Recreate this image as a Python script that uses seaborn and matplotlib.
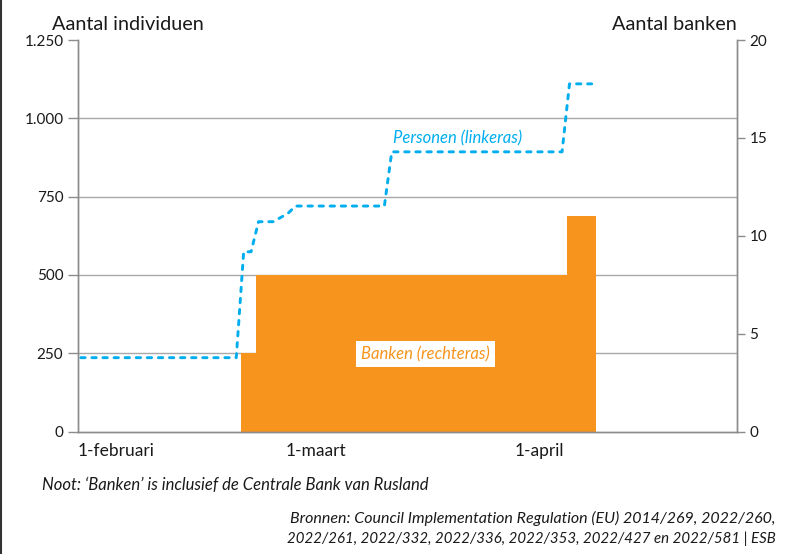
import seaborn as sns
import matplotlib.pyplot as plt
import matplotlib.lines as mlines
import pandas as pd

# Personen op sanctielijst (linkeras)
person_dates = ['2022-02-01', '2022-02-22', '2022-02-23', '2022-02-24', '2022-02-25',
                '2022-02-27', '2022-03-01', '2022-03-02', '2022-03-14', '2022-03-15',
                '2022-04-07', '2022-04-08', '2022-04-11']
person_counts = [236, 236, 574, 574, 670, 670, 697, 720, 720, 893, 893, 1110, 1110]

# Banken op sanctielijst (rechteras), stapsgewijs
bank_dates = ['2022-02-23', '2022-02-25', '2022-04-08', '2022-04-12']
bank_counts = [4, 8, 11, 11]

left_ticks = [0, 250, 500, 750, 1000, 1250]
left_labels = ['0', '250', '500', '750', '1.000', '1.250']
right_ticks = [0, 5, 10, 15, 20]
x_ticks = ['2022-02-01', '2022-03-01', '2022-04-01']
x_labels = ['1-februari', '1-maart', '1-april']

orange = '#F7941D'
blue = '#00AEEF'
grey = '#8c8c8c'
txt = '#1a1a1a'

sns.set_style('white')
plt.rcParams['font.family'] = ['Lato', 'DejaVu Sans']

# lijn staat in het origineel iets na middernacht getekend
df_p = pd.DataFrame({'datum': pd.to_datetime(person_dates) + pd.Timedelta(hours=9),
                     'personen': person_counts})
df_b = pd.DataFrame({'datum': pd.to_datetime(bank_dates), 'banken': bank_counts})

fig = plt.figure(figsize=(7.92, 5.54), dpi=100)
ax = fig.add_axes([78 / 792, 1 - 431.6 / 554, 659 / 792, (431.6 - 40) / 554])
ax2 = ax.twinx()
ax.set_zorder(2)
ax2.set_zorder(1)
ax.patch.set_visible(False)

# banken als gevulde trap op de rechteras
ax2.fill_between(df_b['datum'], df_b['banken'], step='post', color=orange, lw=0, zorder=2)
ax2.set_ylim(0, 20)
ax2.set_yticks(right_ticks)
ax2.set_yticks([t * 20 / 1250 for t in left_ticks[1:]], minor=True)
ax2.grid(which='minor', axis='y', color='#a8a8a8', lw=1)
ax2.grid(which='major', visible=False)
ax2.set_axisbelow(True)
ax2.tick_params(which='minor', length=0)
ax2.tick_params(axis='y', which='major', length=6, width=1, color=grey,
                labelsize=11, labelcolor=txt, pad=3)
ax2.set_ylabel('')
ax2.text(pd.Timestamp('2022-03-19 22:00'), 3.96, 'Banken (rechteras)', color=orange,
         fontsize=12, style='italic', ha='center', va='center',
         bbox=dict(facecolor='white', edgecolor='none', pad=3.5))

# personen als gestippelde lijn op de linkeras
sns.lineplot(data=df_p, x='datum', y='personen', ax=ax, color=blue, lw=2.1,
             linestyle=(0, (1.5, 2.3)), dash_capstyle='round')
ax.set_ylim(0, 1250)
ax.set_xlim(pd.Timestamp('2022-02-01'), pd.Timestamp('2022-05-01'))
ax.set_yticks(left_ticks)
ax.set_yticklabels(left_labels)
ax.set_xticks(pd.to_datetime(x_ticks))
ax.set_xticklabels(x_labels, ha='left')
ax.tick_params(axis='y', length=7.5, width=1, color=grey, labelsize=11, labelcolor=txt, pad=3)
ax.tick_params(axis='x', length=4, width=1, color='#b0b0b0', labelsize=12.5, labelcolor=txt, pad=4)
ax.set_xlabel('')
ax.set_ylabel('')
ax.text(pd.Timestamp('2022-03-24 05:00'), 937, 'Personen (linkeras)', color=blue,
        fontsize=12, style='italic', ha='center', va='center')

for a in (ax, ax2):
    a.spines['top'].set_visible(False)
    for s in ('left', 'right', 'bottom'):
        a.spines[s].set_color(grey)
        a.spines[s].set_linewidth(1)

fig.text(52 / 792, 1 - 25 / 554, 'Aantal individuen', fontsize=14.3, color=txt, va='center')
fig.text(737 / 792, 1 - 25 / 554, 'Aantal banken', fontsize=14.3, color=txt, va='center', ha='right')
fig.text(42 / 792, 1 - 485 / 554, 'Noot: \u2018Banken\u2019 is inclusief de Centrale Bank van Rusland',
         fontsize=12, style='italic', color=txt, va='center')
fig.text(776 / 792, 1 - 518 / 554,
         'Bronnen: Council Implementation Regulation (EU) 2014/269, 2022/260,',
         fontsize=11.5, style='italic', color=txt, va='center', ha='right')
fig.text(776 / 792, 1 - 539 / 554,
         '2022/261, 2022/332, 2022/336, 2022/353, 2022/427 en 2022/581 | ESB',
         fontsize=10.8, style='italic', color=txt, va='center', ha='right')

fig.add_artist(mlines.Line2D([0.0015, 0.0015], [0, 1], color='#333333', lw=1.5))

fig.savefig('out.png', dpi=100)
